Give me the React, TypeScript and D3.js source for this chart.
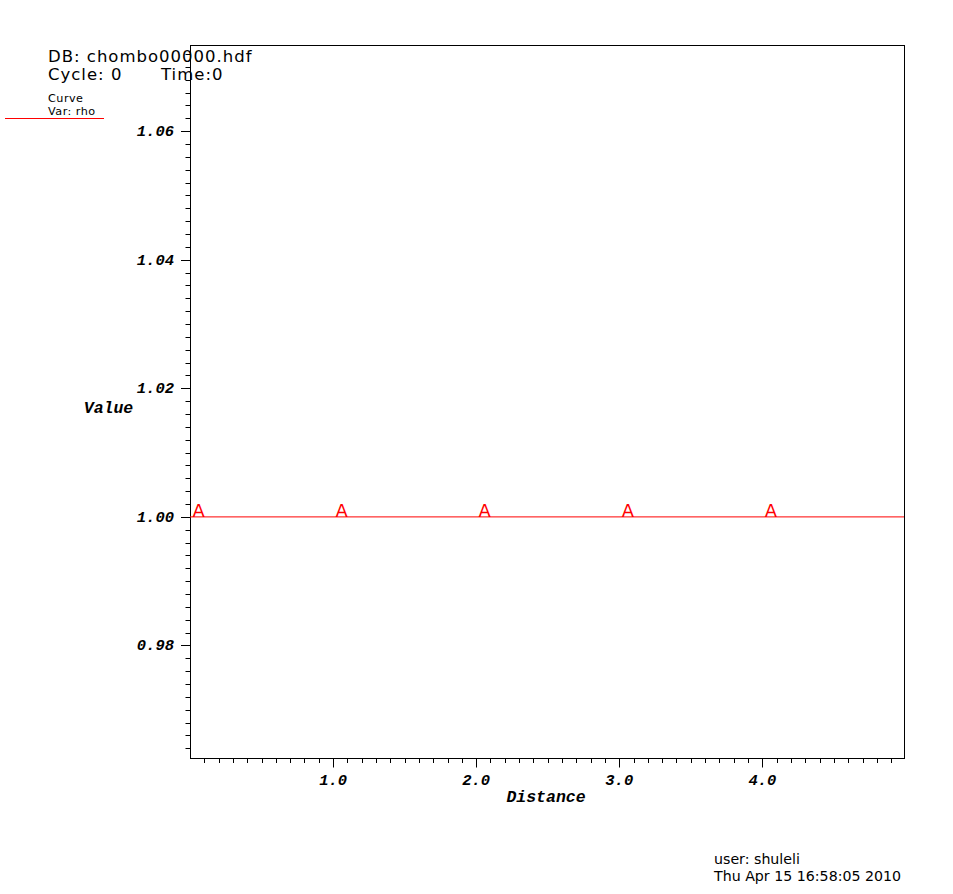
import React from "react";
import * as d3 from "d3";

const distance = [0, 4.99];
const rho = [1.0, 1.0];
const markerX = [0.06, 1.06, 2.06, 3.06, 4.06];
const markerLabel = "A";
const xMajorTicks = [1, 2, 3, 4];
const xTickLabels = ["1.0", "2.0", "3.0", "4.0"];
const yMajorTicks = [0.98, 1.0, 1.02, 1.04, 1.06];
const yTickLabels = ["0.98", "1.00", "1.02", "1.04", "1.06"];
const xDomain = [0, 4.99];
const yDomain = [0.9625, 1.0734];

const W = 953, H = 894;
const L = 190, R = 904, T = 45, B = 758;

export default function App() {
  const x = d3.scaleLinear().domain(xDomain).range([L, R]);
  const y = d3.scaleLinear().domain(yDomain).range([B, T]);
  const xMinor = d3.range(1, 50).map((i) => i / 10).filter((v) => Math.abs(v - Math.round(v)) > 1e-6 && v <= xDomain[1]);
  const yMinor = d3.range(Math.ceil(yDomain[0] / 0.002), Math.floor(yDomain[1] / 0.002) + 1)
    .map((i) => i * 0.002)
    .filter((v) => !yMajorTicks.some((m) => Math.abs(m - v) < 1e-6));
  const line = d3.line<number>().x((_, i) => x(distance[i])).y((d) => y(d));
  const mono = "'Liberation Mono', 'DejaVu Sans Mono', monospace";
  const sans = "'DejaVu Sans', sans-serif";
  return (
    <svg width={W} height={H} style={{ position: "absolute", left: 0, top: 0, background: "#fff" }}>
      <rect x={0} y={0} width={W} height={H} fill="#fff" />
      <text x={48} y={62} fontFamily={sans} fontSize={16.5} letterSpacing={1} fill="#000">DB: chombo00000.hdf</text>
      <text x={48} y={80} fontFamily={sans} fontSize={16.5} letterSpacing={1} fill="#000">Cycle: 0</text>
      <text x={161} y={80} fontFamily={sans} fontSize={16.5} letterSpacing={1} fill="#000">Time:0</text>
      <text x={48} y={102} fontFamily={sans} fontSize={11.2} letterSpacing={0.5} fill="#000">Curve</text>
      <text x={48} y={115} fontFamily={sans} fontSize={11.2} letterSpacing={0.5} fill="#000">Var: rho</text>
      <line x1={5} x2={104} y1={118.5} y2={118.5} stroke="red" strokeWidth={1} />

      <rect x={L + 0.5} y={T + 0.5} width={R - L} height={B - T} fill="none" stroke="#000" strokeWidth={1} />

      {yMinor.map((v) => (
        <line key={"ym" + v} x1={L - 4.5} x2={L} y1={Math.round(y(v)) + 0.5} y2={Math.round(y(v)) + 0.5} stroke="#000" />
      ))}
      {yMajorTicks.map((v, i) => (
        <g key={"yM" + v}>
          <line x1={L - 9} x2={L} y1={Math.round(y(v)) + 0.5} y2={Math.round(y(v)) + 0.5} stroke="#000" />
          <text x={174} y={y(v) + 5} textAnchor="end" fontFamily={mono} fontWeight="bold" fontStyle="italic" fontSize={15.5} fill="#000">{yTickLabels[i]}</text>
        </g>
      ))}
      {xMinor.map((v) => (
        <line key={"xm" + v} x1={Math.round(x(v)) + 0.5} x2={Math.round(x(v)) + 0.5} y1={B} y2={B + 5} stroke="#000" />
      ))}
      {xMajorTicks.map((v, i) => (
        <g key={"xM" + v}>
          <line x1={Math.round(x(v)) + 0.5} x2={Math.round(x(v)) + 0.5} y1={B} y2={B + 9.5} stroke="#000" />
          <text x={x(v)} y={785} textAnchor="middle" fontFamily={mono} fontWeight="bold" fontStyle="italic" fontSize={15.5} fill="#000">{xTickLabels[i]}</text>
        </g>
      ))}
      <text x={546} y={802} textAnchor="middle" fontFamily={mono} fontWeight="bold" fontStyle="italic" fontSize={16.5} fill="#000">Distance</text>
      <text x={108.5} y={413} textAnchor="middle" fontFamily={mono} fontWeight="bold" fontStyle="italic" fontSize={16.5} fill="#000">Value</text>

      <path d={line(rho) || ""} fill="none" stroke="red" strokeWidth={1} />
      {markerX.map((v) => (
        <text key={"mk" + v} x={x(v)} y={y(1.0)} textAnchor="middle" fontFamily={sans} fontSize={18} fill="red">{markerLabel}</text>
      ))}

      <text x={714} y={864} fontFamily={sans} fontSize={14.2} fill="#000">user: shuleli</text>
      <text x={714} y={881} fontFamily={sans} fontSize={14.2} fill="#000">Thu Apr 15 16:58:05 2010</text>
    </svg>
  );
}
